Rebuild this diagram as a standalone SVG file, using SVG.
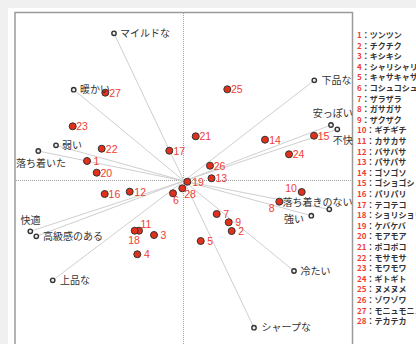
<svg xmlns="http://www.w3.org/2000/svg" width="416" height="344" viewBox="0 0 416 344">
<style>
.bg{fill:#f0f0f0}
.panel{fill:#fff;stroke:#9a9a9a;stroke-width:1.5}
.axis{stroke:#a0a0a0;stroke-width:1;stroke-dasharray:1 1;fill:none}
.conn line{stroke:#cfcfcf;stroke-width:1}
.it circle{fill:#e2301c;stroke:#333;stroke-width:1}
.it text{font-family:"Liberation Sans",Arial,sans-serif;font-size:10.5px;fill:#f03c34;text-anchor:middle}
.at circle{fill:#eee;stroke:#333;stroke-width:1.4}
.at text{font-family:"Noto Sans CJK JP","Noto Sans",sans-serif;font-size:10px;fill:#333}
.lg text{font-family:"Noto Sans CJK JP","Noto Sans",sans-serif;font-size:8px;font-weight:bold;fill:#333}
.lg tspan.n{fill:#f03c34}
</style>
<rect class="bg" x="0" y="0" width="416" height="344"/>
<rect x="8" y="8" width="408" height="336" fill="#fff"/>
<rect class="panel" x="15" y="12.5" width="337.5" height="340"/>
<line class="axis" x1="183.5" y1="13" x2="183.5" y2="344"/>
<line class="axis" x1="16" y1="180.5" x2="352" y2="180.5"/>
<g id="connectors" class="conn">
<line x1="184" y1="181" x2="114" y2="33.3"/>
<line x1="184" y1="181" x2="73.7" y2="89.7"/>
<line x1="184" y1="181" x2="56" y2="145.3"/>
<line x1="184" y1="181" x2="38.3" y2="151"/>
<line x1="184" y1="181" x2="30.3" y2="231.3"/>
<line x1="184" y1="181" x2="36.3" y2="236.3"/>
<line x1="184" y1="181" x2="52.7" y2="280.3"/>
<line x1="184" y1="181" x2="314.3" y2="80.3"/>
<line x1="184" y1="181" x2="331" y2="125"/>
<line x1="184" y1="181" x2="337.3" y2="129.3"/>
<line x1="184" y1="181" x2="329.3" y2="209.3"/>
<line x1="184" y1="181" x2="311.3" y2="215.7"/>
<line x1="184" y1="181" x2="294" y2="271"/>
<line x1="184" y1="181" x2="254" y2="327.7"/>
</g>
<g id="items" class="it">
<g id="n1"><circle cx="87" cy="161" r="3.5"/><text x="96.5" y="164.8">1</text></g>
<g id="n2"><circle cx="231.7" cy="231" r="3.5"/><text x="241.2" y="234.8">2</text></g>
<g id="n3"><circle cx="154" cy="235" r="3.5"/><text x="163.5" y="238.8">3</text></g>
<g id="n4"><circle cx="137.3" cy="254.3" r="3.5"/><text x="146.8" y="258.1">4</text></g>
<g id="n5"><circle cx="200.7" cy="241" r="3.5"/><text x="210.2" y="244.8">5</text></g>
<g id="n6"><circle cx="173" cy="193.3" r="3.5"/><text x="176" y="204">6</text></g>
<g id="n7"><circle cx="216.7" cy="214" r="3.5"/><text x="226.2" y="217.8">7</text></g>
<g id="n8"><circle cx="279.3" cy="201.7" r="3.5"/><text x="271.7" y="212.1">8</text></g>
<g id="n9"><circle cx="228.7" cy="222.3" r="3.5"/><text x="238.2" y="226.1">9</text></g>
<g id="n10"><circle cx="301.7" cy="192" r="3.5"/><text x="291" y="192.1">10</text></g>
<g id="n11"><circle cx="139" cy="230.7" r="3.5"/><text x="146" y="228.1">11</text></g>
<g id="n12"><circle cx="129.7" cy="191.7" r="3.5"/><text x="140.2" y="195.5">12</text></g>
<g id="n13"><circle cx="211.5" cy="178.3" r="3.5"/><text x="221.3" y="182.1">13</text></g>
<g id="n14"><circle cx="265" cy="139.7" r="3.5"/><text x="275" y="143.5">14</text></g>
<g id="n15"><circle cx="314" cy="135.7" r="3.5"/><text x="323.5" y="139.5">15</text></g>
<g id="n16"><circle cx="104.7" cy="194" r="3.5"/><text x="114.4" y="197.8">16</text></g>
<g id="n17"><circle cx="169.3" cy="150.7" r="3.5"/><text x="179.3" y="154.5">17</text></g>
<g id="n18"><circle cx="134.7" cy="230.7" r="3.5"/><text x="134" y="243.8">18</text></g>
<g id="n19"><circle cx="187.3" cy="181.7" r="3.5"/><text x="198" y="185.5">19</text></g>
<g id="n20"><circle cx="96.7" cy="172.7" r="3.5"/><text x="106.3" y="176.5">20</text></g>
<g id="n21"><circle cx="195.7" cy="136.3" r="3.5"/><text x="205.3" y="140.1">21</text></g>
<g id="n22"><circle cx="101.7" cy="148.7" r="3.5"/><text x="111.7" y="152.5">22</text></g>
<g id="n23"><circle cx="72.7" cy="126.3" r="3.5"/><text x="82" y="130.1">23</text></g>
<g id="n24"><circle cx="289" cy="154.3" r="3.5"/><text x="298.5" y="158.1">24</text></g>
<g id="n25"><circle cx="227.3" cy="89.3" r="3.5"/><text x="236.8" y="93.1">25</text></g>
<g id="n26"><circle cx="210" cy="165.7" r="3.5"/><text x="219.5" y="169.5">26</text></g>
<g id="n27"><circle cx="105.3" cy="92.7" r="3.5"/><text x="115" y="96.5">27</text></g>
<g id="n28"><circle cx="182.3" cy="188.3" r="3.5"/><text x="190" y="198.3">28</text></g>
</g>
<g id="attributes" class="at">
<g id="a-mild"><circle cx="114" cy="33.3" r="2.2"/><text x="120" y="37">マイルドな</text></g>
<g id="a-warm"><circle cx="73.7" cy="89.7" r="2.2"/><text x="80" y="93.4">暖かい</text></g>
<g id="a-weak"><circle cx="56" cy="145.3" r="2.2"/><text x="62" y="149">弱い</text></g>
<g id="a-calm"><circle cx="38.3" cy="151" r="2.2"/><text x="41" y="166.7" text-anchor="middle">落ち着いた</text></g>
<g id="a-comfort"><circle cx="30.3" cy="231.3" r="2.2"/><text x="30.5" y="223.7" text-anchor="middle">快適</text></g>
<g id="a-luxury"><circle cx="36.3" cy="236.3" r="2.2"/><text x="43" y="240">高級感のある</text></g>
<g id="a-elegant"><circle cx="52.7" cy="280.3" r="2.2"/><text x="60" y="284">上品な</text></g>
<g id="a-vulgar"><circle cx="314.3" cy="80.3" r="2.2"/><text x="321.5" y="84">下品な</text></g>
<g id="a-cheap"><circle cx="331" cy="125" r="2.2"/><text x="332.7" y="116.7" text-anchor="middle">安っぽい</text></g>
<g id="a-unpleasant"><circle cx="337.3" cy="129.3" r="2.2"/><text x="342.7" y="143.7" text-anchor="middle">不快</text></g>
<g id="a-restless"><circle cx="329.3" cy="209.3" r="2.2"/><text x="352.5" y="206.4" text-anchor="end">落ち着きのない</text></g>
<g id="a-strong"><circle cx="311.3" cy="215.7" r="2.2"/><text x="304" y="223" text-anchor="end">強い</text></g>
<g id="a-cold"><circle cx="294" cy="271" r="2.2"/><text x="300.5" y="274.7">冷たい</text></g>
<g id="a-sharp"><circle cx="254" cy="327.7" r="2.2"/><text x="261.5" y="331.4">シャープな</text></g>
</g>
<g id="legend" class="lg">
<text x="357" y="38"><tspan class="n">1</tspan>：ツンツン</text>
<text x="357" y="48.6"><tspan class="n">2</tspan>：チクチク</text>
<text x="357" y="59.2"><tspan class="n">3</tspan>：キシキシ</text>
<text x="357" y="69.8"><tspan class="n">4</tspan>：シャリシャリ</text>
<text x="357" y="80.4"><tspan class="n">5</tspan>：キャサキャサ</text>
<text x="357" y="91"><tspan class="n">6</tspan>：コシュコシュ</text>
<text x="357" y="101.6"><tspan class="n">7</tspan>：ザラザラ</text>
<text x="357" y="112.2"><tspan class="n">8</tspan>：ガサガサ</text>
<text x="357" y="122.8"><tspan class="n">9</tspan>：ザクザク</text>
<text x="357" y="133.4"><tspan class="n">10</tspan>：ギチギチ</text>
<text x="357" y="144"><tspan class="n">11</tspan>：カサカサ</text>
<text x="357" y="154.6"><tspan class="n">12</tspan>：バサバサ</text>
<text x="357" y="165.2"><tspan class="n">13</tspan>：パサパサ</text>
<text x="357" y="175.8"><tspan class="n">14</tspan>：ゴソゴソ</text>
<text x="357" y="186.4"><tspan class="n">15</tspan>：ゴショゴショ</text>
<text x="357" y="197"><tspan class="n">16</tspan>：パリパリ</text>
<text x="357" y="207.6"><tspan class="n">17</tspan>：テコテコ</text>
<text x="357" y="218.2"><tspan class="n">18</tspan>：ショリショリ</text>
<text x="357" y="228.8"><tspan class="n">19</tspan>：ケバケバ</text>
<text x="357" y="239.4"><tspan class="n">20</tspan>：モアモア</text>
<text x="357" y="250"><tspan class="n">21</tspan>：ポコポコ</text>
<text x="357" y="260.6"><tspan class="n">22</tspan>：モサモサ</text>
<text x="357" y="271.2"><tspan class="n">23</tspan>：モワモワ</text>
<text x="357" y="281.8"><tspan class="n">24</tspan>：ギトギト</text>
<text x="357" y="292.4"><tspan class="n">25</tspan>：ヌメヌメ</text>
<text x="357" y="303"><tspan class="n">26</tspan>：ゾワゾワ</text>
<text x="357" y="313.6"><tspan class="n">27</tspan>：モニュモニュ</text>
<text x="357" y="324.2"><tspan class="n">28</tspan>：テカテカ</text>
</g>
</svg>
